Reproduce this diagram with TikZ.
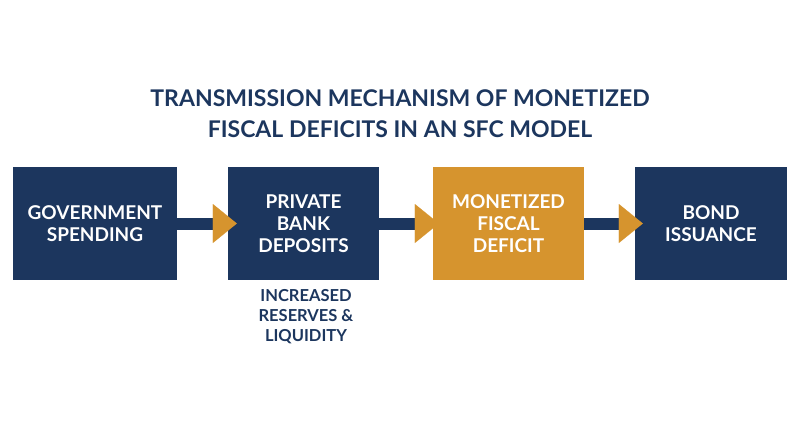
\documentclass[tikz,border=0pt]{standalone}
\usepackage{fontspec}
\setmainfont{Lato}
\usetikzlibrary{arrows.meta}
\definecolor{navy}{RGB}{28,54,94}
\definecolor{gold}{RGB}{214,148,46}
\begin{document}
\begin{tikzpicture}[x=1pt,y=-1pt,
  box/.style={fill=navy,text=white,minimum height=113pt,inner sep=0pt,align=center,
    font=\fontsize{19}{22}\selectfont\bfseries},
  conn/.style={draw=navy,line width=12pt,
    -{Triangle[length=24pt,width=39pt,line width=0.01pt,color=gold,fill=gold]}}]
\useasboundingbox (0,0) rectangle (800,447);
\node[font=\fontsize{23}{31}\selectfont\bfseries,text=navy,align=center] (title) at (400,113.5)
  {TRANSMISSION MECHANISM OF MONETIZED\\FISCAL DEFICITS IN AN SFC MODEL};
\node[box,minimum width=164pt] (b1) at (95,223.5) {GOVERNMENT\\SPENDING};
\node[box,minimum width=151pt] (b2) at (303.5,223.5) {PRIVATE\\BANK\\DEPOSITS};
\node[box,minimum width=151pt,fill=gold] (b3) at (508.5,223.5) {MONETIZED\\FISCAL\\DEFICIT};
\node[box,minimum width=152pt] (b4) at (711,223.5) {BOND\\ISSUANCE};
\node[text=navy,align=center,font=\fontsize{16.5}{20}\selectfont\bfseries] (lab) at (306,317)
  {INCREASED\\RESERVES \&\\LIQUIDITY};
\draw[conn,shorten >=-9pt] (b1.east) -- (b2.west);
\draw[conn,shorten >=-6pt] (b2.east) -- (b3.west);
\draw[conn,shorten >=-8pt] (b3.east) -- (b4.west);
\end{tikzpicture}
\end{document}
